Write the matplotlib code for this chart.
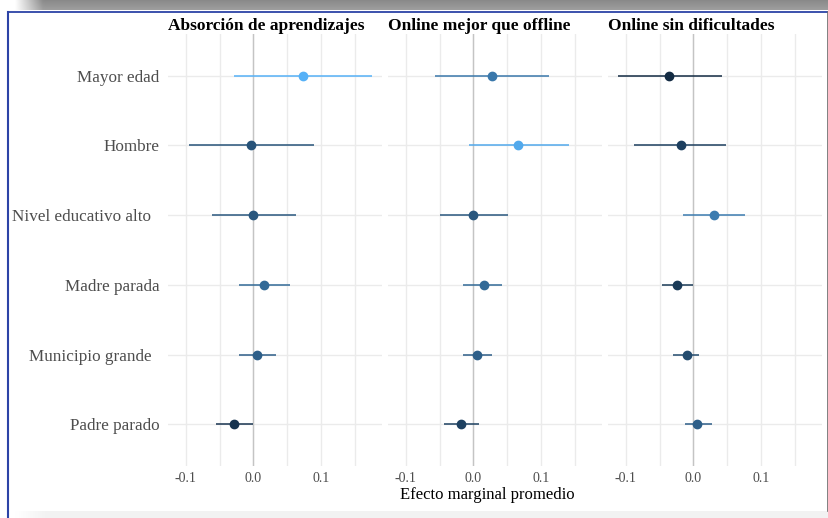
import numpy as np
import matplotlib
matplotlib.use("Agg")
import matplotlib.pyplot as plt
from matplotlib.colors import LinearSegmentedColormap, Normalize

# data (average marginal effects with 95% CI)
variables = ["Mayor edad", "Hombre", "Nivel educativo alto  ", "Madre parada",
             "Municipio grande  ", "Padre parado"]
panels = ["Absorción de aprendizajes", "Online mejor que offline", "Online sin dificultades"]

est_absorcion = [0.073, -0.003, 0.000, 0.015, 0.006, -0.028]
lo_absorcion = [-0.028, -0.095, -0.061, -0.022, -0.021, -0.055]
hi_absorcion = [0.176, 0.090, 0.063, 0.054, 0.034, 0.000]

est_online = [0.027, 0.066, 0.000, 0.015, 0.006, -0.018]
lo_online = [-0.057, -0.007, -0.049, -0.015, -0.016, -0.043]
hi_online = [0.112, 0.142, 0.051, 0.043, 0.028, 0.009]

est_sindif = [-0.036, -0.019, 0.030, -0.024, -0.010, 0.006]
lo_sindif = [-0.112, -0.088, -0.015, -0.046, -0.030, -0.013]
hi_sindif = [0.042, 0.049, 0.076, -0.001, 0.009, 0.027]

x_ticks = [-0.1, 0.0, 0.1]
x_ticklabels = ["-0.1", "0.0", "0.1"]
x_title = "Efecto marginal promedio"

series = [(est_absorcion, lo_absorcion, hi_absorcion),
          (est_online, lo_online, hi_online),
          (est_sindif, lo_sindif, hi_sindif)]

W, H = 829, 518
plt.rcParams['font.family'] = ['Liberation Serif', 'DejaVu Serif']
fig = plt.figure(figsize=(W / 100, H / 100), dpi=100)

# frame decoration of the screenshot
bg = fig.add_axes([0, 0, 1, 1], zorder=-10)
bg.set_xlim(0, W)
bg.set_ylim(H, 0)
bg.axis("off")
grad = np.ones((20, 300, 3))
fade = np.clip((np.arange(300) / 300 * W - 14) / 28, 0, 1)
vert = np.linspace(0.53, 0.62, 20)
for c in range(3):
    grad[:, :, c] = 1 - fade[None, :] * (1 - vert[:, None])
bg.imshow(grad, extent=(0, W, 10.5, 0), aspect="auto", interpolation="bilinear")
strip = np.ones((4, 300, 3))
fade2 = np.clip((np.arange(300) / 300 * W - 15) / 30, 0, 1)
for c in range(3):
    strip[:, :, c] = 1 - fade2[None, :] * 0.05
bg.imshow(strip, extent=(0, W, H, 511), aspect="auto", interpolation="bilinear")
bg.plot([8.5, W], [11.5, 11.5], color="#2c43a6", lw=1.3)
bg.plot([8.5, 8.5], [11.5, H], color="#2c43a6", lw=1.5)
bg.plot([W - 1, W - 1], [11.5, 511], color="#6b6b6b", lw=1.2)

cmap = LinearSegmentedColormap.from_list("gg", ["#132B43", "#56B1F7"])
all_est = np.concatenate([s[0] for s in series])
norm = Normalize(all_est.min(), all_est.max())

all_lo = np.concatenate([s[1] for s in series])
all_hi = np.concatenate([s[2] for s in series])
span = all_hi.max() - all_lo.min()
xlim = (all_lo.min() - 0.05 * span, all_hi.max() + 0.05 * span)

ypos = np.arange(len(variables))[::-1] + 1
left0, pw, gap = 168, 214, 6
top, bottom = 34, 466

for i, (name, (est, lo, hi)) in enumerate(zip(panels, series)):
    left = left0 + i * (pw + gap)
    ax = fig.add_axes([left / W, 1 - bottom / H, pw / W, (bottom - top) / H])
    ax.set_xlim(*xlim)
    ax.set_ylim(0.4, len(variables) + 0.6)
    for s in ax.spines.values():
        s.set_visible(False)
    ax.set_xticks(x_ticks)
    ax.set_xticks([-0.05, 0.05, 0.15], minor=True)
    ax.set_xticklabels(x_ticklabels)
    ax.set_yticks(ypos)
    if i == 0:
        ax.set_yticklabels(variables)
    else:
        ax.set_yticklabels([])
    ax.tick_params(axis="both", which="both", length=0, colors="#4d4d4d")
    ax.tick_params(axis="x", labelsize=10, pad=4)
    ax.tick_params(axis="y", labelsize=12.3, pad=6)
    ax.grid(True, which="both", color="#ebebeb", lw=1.0)
    ax.set_axisbelow(True)
    ax.axvline(0, color="#c4c4c4", lw=1.0, zorder=1)
    colors = cmap(norm(np.array(est)))
    for y, e, l, h, c in zip(ypos, est, lo, hi, colors):
        ax.plot([l, h], [y, y], color=c, lw=1.1, zorder=2, solid_capstyle="butt")
        ax.plot(e, y, "o", color=c, ms=6, zorder=3)
    fig.text(left / W, 1 - 26 / H, name, ha="left", va="center",
             fontsize=12.5, fontweight="bold", color="black")

fig.text(487 / W, 1 - 495 / H, x_title, ha="center", va="center", fontsize=12, color="black")

fig.savefig("out.png", dpi=100)
